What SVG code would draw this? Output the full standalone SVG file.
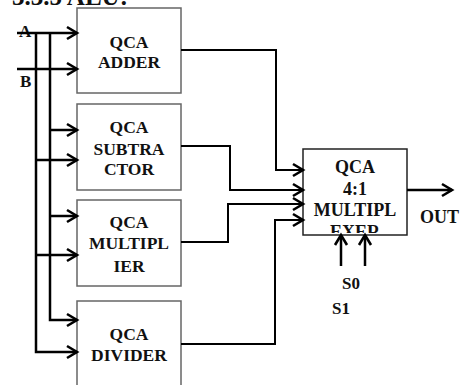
<svg xmlns="http://www.w3.org/2000/svg" width="464" height="385" viewBox="0 0 464 385" font-family="'Liberation Serif', 'Times New Roman', serif" font-weight="bold">
<style>
text{font-family:'Liberation Serif','Times New Roman',serif;font-weight:700;fill:#111;}
.box{fill:#fff;stroke:#666;stroke-width:1.5;}
.mux{fill:#fff;stroke:#222;stroke-width:1.5;}
.lbl{font-size:17.5px;text-anchor:middle;}
.w{fill:none;stroke:#000;stroke-width:2.5;}
.o{fill:none;stroke:#000;stroke-width:2;}
</style>
<defs>
<marker id="ah" markerUnits="userSpaceOnUse" markerWidth="14" markerHeight="16" refX="11" refY="7" orient="auto" overflow="visible">
<path d="M1,1 L11,7 L1,13" fill="none" stroke="#000" stroke-width="2.6"/>
</marker>
<clipPath id="muxclip"><rect x="304" y="150" width="102" height="83"/></clipPath>
</defs>
<rect width="464" height="385" fill="#fff"/>
<text x="12" y="5" font-size="25">3.3.5 ALU:</text>
<g id="adder">
<rect class="box" x="77" y="8" width="104" height="85"/>
<text class="lbl" x="129" y="48">QCA</text>
<text class="lbl" x="129" y="68">ADDER</text>
</g>
<g id="subtractor">
<rect class="box" x="77" y="104" width="104" height="86"/>
<text class="lbl" x="129" y="133">QCA</text>
<text class="lbl" x="129" y="155">SUBTRA</text>
<text class="lbl" x="129" y="175">CTOR</text>
</g>
<g id="multiplier">
<rect class="box" x="77" y="200" width="104" height="86"/>
<text class="lbl" x="129" y="228">QCA</text>
<text class="lbl" x="129" y="249">MULTIPL</text>
<text class="lbl" x="129" y="272">IER</text>
</g>
<g id="divider">
<rect class="box" x="77" y="301" width="104" height="100"/>
<text class="lbl" x="129" y="340">QCA</text>
<text class="lbl" x="129" y="361">DIVIDER</text>
</g>
<g id="mux">
<rect class="mux" x="303" y="149" width="104" height="86"/>
<g clip-path="url(#muxclip)">
<text class="lbl" x="355" y="173" font-size="18" style="font-size:18px">QCA</text>
<text class="lbl" x="355" y="195" style="font-size:18px">4:1</text>
<text class="lbl" x="355" y="216" style="font-size:18px">MULTIPL</text>
<text class="lbl" x="355" y="238" style="font-size:18px">EXER</text>
</g>
</g>
<g id="labels">
<text x="19" y="37" font-size="17">A</text>
<text x="20" y="87" font-size="17">B</text>
<text x="420" y="223" font-size="18">OUT</text>
<text x="342" y="289" font-size="17">S0</text>
<text x="332" y="314" font-size="17">S1</text>
</g>
<g id="connectors">
<path class="w" d="M17,33 H77" marker-end="url(#ah)"/>
<path class="w" d="M17,69 H77" marker-end="url(#ah)"/>
<path class="w" d="M36,33 V352 H77" marker-end="url(#ah)"/>
<path class="w" d="M50,33 V320 H77" marker-end="url(#ah)"/>
<path class="w" d="M50,130 H77" marker-end="url(#ah)"/>
<path class="w" d="M36,160 H77" marker-end="url(#ah)"/>
<path class="w" d="M50,216 H77" marker-end="url(#ah)"/>
<path class="w" d="M36,255 H77" marker-end="url(#ah)"/>
<path class="o" d="M181,50 H276 V170 H303" marker-end="url(#ah)"/>
<path class="o" d="M181,146 H230 V190 H303" marker-end="url(#ah)"/>
<path class="o" d="M181,242 H228 V204 H303" marker-end="url(#ah)"/>
<path class="o" d="M181,344 H275 V220 H303" marker-end="url(#ah)"/>
<path class="w" d="M407,190 H452" marker-end="url(#ah)"/>
<path class="w" d="M341,266 V235" marker-end="url(#ah)"/>
<path class="w" d="M365,266 V235" marker-end="url(#ah)"/>
</g>
</svg>
